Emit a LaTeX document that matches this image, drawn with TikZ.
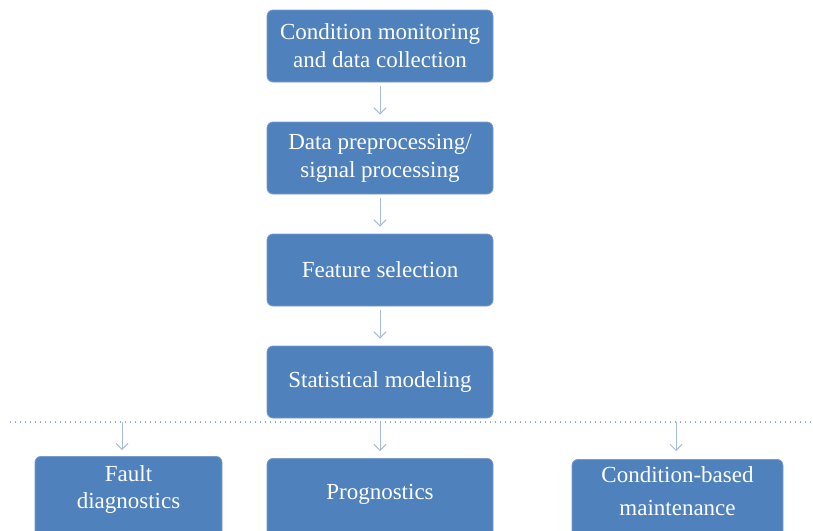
\documentclass[tikz,border=0pt]{standalone}
\usepackage{fontspec}
\setmainfont{Liberation Serif}
\usetikzlibrary{arrows.meta}
\definecolor{boxblue}{HTML}{4F81BD}
\definecolor{boxedge}{HTML}{7A9CCB}
\definecolor{arrowblue}{HTML}{A4BCDD}
\definecolor{dotblue}{HTML}{8FAAD3}
\begin{document}
\begin{tikzpicture}[x=1pt,y=-1pt,
  flowbox/.style={draw=boxedge,line width=0.8pt,fill=boxblue,rounded corners=6pt,
    text=white,align=center,font=\fontsize{23}{28}\selectfont,inner sep=0pt},
  flowtext/.style={text=white,align=center,inner sep=0pt},
  flowarrow/.style={draw=arrowblue,line width=1pt,-{Straight Barb[length=6pt,width=12pt]}}]
\useasboundingbox (0,0) rectangle (813,530);
\clip (0,0) rectangle (813,530);
\node[flowbox,minimum width=226pt,minimum height=72pt] (b1) at (380,46) {Condition monitoring\\and data collection};
\node[flowbox,minimum width=226pt,minimum height=72pt] (b2) at (380,158) {Data preprocessing/\\signal processing};
\node[flowbox,minimum width=226pt,minimum height=72pt] (b3) at (380,270) {Feature selection};
\node[flowbox,minimum width=226pt,minimum height=72pt] (b4) at (380,382) {Statistical modeling};
\draw[flowarrow] ([yshift=-4pt]b1.south) -- ([yshift=7pt]b2.north);
\draw[flowarrow] ([yshift=-4pt]b2.south) -- ([yshift=7pt]b3.north);
\draw[flowarrow] ([yshift=-4pt]b3.south) -- ([yshift=7pt]b4.north);
\coordinate (dl) at (10,422);
\coordinate (dr) at (813,422);
\draw[dotblue,line width=1.3pt,dash pattern=on 1.3pt off 3.7pt] (dl) -- (dr);
\node[flowbox,minimum width=187pt,minimum height=100pt,anchor=north] (f1) at (128.5,456) {};
\node[flowbox,minimum width=226pt,minimum height=100pt,anchor=north] (f2) at (380,458) {};
\node[flowbox,minimum width=211pt,minimum height=100pt,anchor=north] (f3) at (677.5,459) {};
\node[flowtext,font=\fontsize{23}{27}\selectfont] (t1) at (128.5,489) {Fault\\diagnostics};
\node[flowtext,font=\fontsize{23}{27}\selectfont] (t2) at (380,494) {Prognostics};
\node[flowtext,font=\fontsize{23}{33}\selectfont] (t3) at (677.5,491) {Condition-based\\maintenance};
\coordinate (a1) at (122,422);
\coordinate (a2) at (380,422);
\coordinate (a3) at (676,422);
\draw[flowarrow] (a1) -- ([yshift=6pt]f1.north -| a1);
\draw[flowarrow] (a2) -- ([yshift=7pt]f2.north);
\draw[flowarrow] (a3) -- ([yshift=8pt]f3.north -| a3);
\end{tikzpicture}
\end{document}
